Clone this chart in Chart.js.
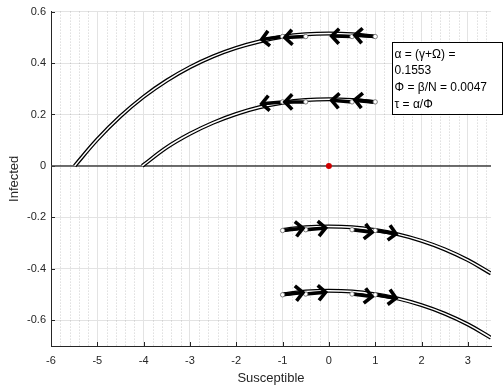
<!DOCTYPE html>
<html lang="en">
<head>
<meta charset="UTF-8">
<title>Susceptible vs Infected phase plane</title>
<script src="https://cdn.jsdelivr.net/npm/chart.js"></script>
<style>
  body { margin: 0; background: #fff; }
  #chart { display: block; }
</style>
</head>
<body>
<canvas id="chart" width="503" height="389"></canvas>
<script>
    const fontFamily = '"Liberation Sans", Arial, Helvetica, sans-serif';

    // axes
    const xTicks = [-6, -5, -4, -3, -2, -1, 0, 1, 2, 3];
    const xTickLabels = ['-6', '-5', '-4', '-3', '-2', '-1', '0', '1', '2', '3'];
    const yTicks = [-0.6, -0.4, -0.2, 0, 0.2, 0.4, 0.6];
    const yTickLabels = ['-0.6', '-0.4', '-0.2', '0', '0.2', '0.4', '0.6'];

    // trajectories (Susceptible, Infected)
    const curveA_S = [-5.49, -5.0, -4.5, -4.0, -3.5, -3.0, -2.5, -2.0, -1.5, -1.0, -0.5, 0, 0.5, 1.0];
    const curveA_I = [0, 0.103, 0.193, 0.269, 0.332, 0.384, 0.426, 0.459, 0.484, 0.502, 0.512, 0.515, 0.512, 0.503];
    const curveB_S = [-4.03, -3.5, -3.0, -2.5, -2.0, -1.5, -1.0, -0.5, 0, 0.5, 1.0];
    const curveB_I = [0, 0.072, 0.125, 0.168, 0.202, 0.228, 0.246, 0.256, 0.259, 0.256, 0.249];
    const curveC_S = [-1.0, -0.5, 0, 0.5, 1.0, 1.5, 2.0, 2.5, 3.0, 3.5];
    const curveC_I = [-0.249, -0.238, -0.235, -0.238, -0.249, -0.266, -0.291, -0.324, -0.366, -0.418];
    const curveD_S = [-1.0, -0.5, 0, 0.5, 1.0, 1.5, 2.0, 2.5, 3.0, 3.5];
    const curveD_I = [-0.499, -0.488, -0.485, -0.488, -0.499, -0.516, -0.541, -0.574, -0.616, -0.668];

    // quiver arrows: tail (open circle) -> tip
    const arrowTailS_top = [1.0, 0.5, -0.5, -1.0];
    const arrowTipS_top = [0.56, 0.06, -0.95, -1.45];
    const arrowTailS_low = [-1.0, -0.5, 0.5, 1.0];
    const arrowTipS_low = [-0.56, -0.07, 0.93, 1.45];
    const arrowTailI_A = [0.503, 0.503, 0.503, 0.503];
    const arrowTipI_A = [0.508, 0.505, 0.499, 0.492];
    const arrowTailI_B = [0.249, 0.249, 0.249, 0.249];
    const arrowTipI_B = [0.257, 0.255, 0.249, 0.242];
    const arrowTailI_C = [-0.251, -0.248, -0.248, -0.251];
    const arrowTipI_C = [-0.242, -0.241, -0.258, -0.264];
    const arrowTailI_D = [-0.501, -0.498, -0.498, -0.501];
    const arrowTipI_D = [-0.492, -0.491, -0.508, -0.514];

    const equilibriumS = [0];
    const equilibriumI = [0];
    const zeroLineS = [-6, 3.5];
    const zeroLineI = [0, 0];

    const boxLines = ['α = (γ+Ω) =', '0.1553', 'Φ = β/N = 0.0047', 'τ = α/Φ'];

    const toPts = (xs, ys) => xs.map((x, i) => ({ x: x, y: ys[i] }));

    const datasets = [];

    datasets.push({
        data: toPts(zeroLineS, zeroLineI),
        showLine: true, borderColor: '#404040', borderWidth: 1.5,
        pointRadius: 0, order: 20
    });

    [[curveA_S, curveA_I], [curveB_S, curveB_I], [curveC_S, curveC_I], [curveD_S, curveD_I]].forEach(c => {
        datasets.push({
            data: toPts(c[0], c[1]),
            showLine: true, borderColor: '#000', borderWidth: 4,
            tension: 0.4, pointRadius: 0, order: 15
        });
        datasets.push({
            data: toPts(c[0], c[1]),
            showLine: true, borderColor: '#fff', borderWidth: 1.5,
            tension: 0.4, pointRadius: 0, order: 14
        });
    });

    const arrowGroups = [
        [arrowTailS_top, arrowTailI_A, arrowTipS_top, arrowTipI_A],
        [arrowTailS_top, arrowTailI_B, arrowTipS_top, arrowTipI_B],
        [arrowTailS_low, arrowTailI_C, arrowTipS_low, arrowTipI_C],
        [arrowTailS_low, arrowTailI_D, arrowTipS_low, arrowTipI_D]
    ];
    const tails = [];
    arrowGroups.forEach(g => {
        g[0].forEach((s, i) => {
            datasets.push({
                data: [{ x: s, y: g[1][i] }, { x: g[2][i], y: g[3][i] }],
                showLine: true, borderColor: '#000', borderWidth: 3.5,
                pointRadius: 0, order: 10, arrow: true
            });
            tails.push({ x: s, y: g[1][i] });
        });
    });

    datasets.push({
        data: tails,
        pointRadius: 2.2, pointBackgroundColor: '#fff',
        pointBorderColor: '#666', pointBorderWidth: 0.8, order: 5
    });

    datasets.push({
        data: toPts(equilibriumS, equilibriumI),
        pointRadius: 3, pointBackgroundColor: '#d00000',
        pointBorderColor: '#d00000', pointBorderWidth: 0, order: 1
    });

    // dotted minor grid + inward ticks
    const gridExtras = {
        id: 'gridExtras',
        beforeDatasetsDraw(chart) {
            const { ctx, chartArea: a, scales: { x, y } } = chart;
            ctx.save();
            ctx.strokeStyle = 'rgba(0,0,0,0.2)';
            ctx.lineWidth = 1;
            ctx.setLineDash([1, 2]);
            for (let k = 0; k <= 47; k++) {
                const v = -6 + k * 0.2;
                if (Math.abs(v - Math.round(v)) < 1e-6) continue;
                const px = Math.round(x.getPixelForValue(v)) + 0.5;
                ctx.beginPath();
                ctx.moveTo(px, a.top);
                ctx.lineTo(px, a.bottom);
                ctx.stroke();
            }
            ctx.setLineDash([]);
            ctx.strokeStyle = '#262626';
            xTicks.forEach(v => {
                const px = Math.round(x.getPixelForValue(v)) + 0.5;
                ctx.beginPath();
                ctx.moveTo(px, a.bottom);
                ctx.lineTo(px, a.bottom - 4);
                ctx.stroke();
            });
            yTicks.forEach(v => {
                const py = Math.round(y.getPixelForValue(v)) + 0.5;
                ctx.beginPath();
                ctx.moveTo(a.left, py);
                ctx.lineTo(a.left + 4, py);
                ctx.stroke();
            });
            ctx.restore();
        }
    };

    const arrowHeads = {
        id: 'arrowHeads',
        afterDatasetsDraw(chart) {
            const ctx = chart.ctx;
            chart.data.datasets.forEach((ds, i) => {
                if (!ds.arrow) return;
                const pts = chart.getDatasetMeta(i).data;
                const a = pts[0], b = pts[1];
                const ang = Math.atan2(b.y - a.y, b.x - a.x);
                const len = 10.5, spread = 0.8;
                ctx.save();
                ctx.strokeStyle = '#000';
                ctx.lineWidth = 3.6;
                ctx.lineJoin = 'miter';
                ctx.beginPath();
                ctx.moveTo(b.x - len * Math.cos(ang - spread), b.y - len * Math.sin(ang - spread));
                ctx.lineTo(b.x, b.y);
                ctx.lineTo(b.x - len * Math.cos(ang + spread), b.y - len * Math.sin(ang + spread));
                ctx.stroke();
                ctx.restore();
            });
        }
    };

    const textBox = {
        id: 'textBox',
        afterDraw(chart) {
            const { ctx, chartArea: a } = chart;
            const left = a.right - 99, top = a.top + 30, w = 110, h = 72;
            ctx.save();
            ctx.fillStyle = '#fff';
            ctx.fillRect(left, top, w, h);
            ctx.strokeStyle = '#000';
            ctx.lineWidth = 1;
            ctx.strokeRect(Math.round(left) + 0.5, Math.round(top) + 0.5, w, h);
            ctx.fillStyle = '#000';
            ctx.font = '12px ' + fontFamily;
            ctx.textBaseline = 'middle';
            boxLines.forEach((t, i) => {
                ctx.fillText(t, left + 2.5, top + 12.7 + i * 16.7);
            });
            ctx.restore();
        }
    };

    new Chart(document.getElementById('chart'), {
        type: 'scatter',
        data: { datasets: datasets },
        options: {
            responsive: false,
            animation: false,
            events: [],
            layout: { padding: { top: 9, right: 12, left: 0, bottom: 0 } },
            plugins: { legend: { display: false }, tooltip: { enabled: false } },
            scales: {
                x: {
                    type: 'linear', min: -6, max: 3.5,
                    afterBuildTicks: s => { s.ticks = xTicks.map(v => ({ value: v })); },
                    afterFit: s => { s.height = 43; },
                    grid: { color: '#e3e3e3', drawTicks: false },
                    border: { display: true, color: '#262626', width: 1 },
                    ticks: {
                        padding: 8, color: '#262626', autoSkip: false, maxRotation: 0,
                        font: { family: fontFamily, size: 11 },
                        callback: (v, i) => xTickLabels[i]
                    },
                    title: {
                        display: true, text: 'Susceptible', color: '#262626',
                        font: { family: fontFamily, size: 13 }, padding: { top: 0, bottom: 3 }
                    }
                },
                y: {
                    type: 'linear', min: -0.7, max: 0.6,
                    afterBuildTicks: s => { s.ticks = yTicks.map(v => ({ value: v })); },
                    afterFit: s => { s.width = 51; },
                    grid: { color: '#e3e3e3', drawTicks: false },
                    border: { display: true, color: '#262626', width: 1 },
                    ticks: {
                        padding: 5, color: '#262626', autoSkip: false,
                        font: { family: fontFamily, size: 11 },
                        callback: (v, i) => yTickLabels[i]
                    },
                    title: {
                        display: true, text: 'Infected', color: '#262626',
                        font: { family: fontFamily, size: 13 }, padding: { top: 7, bottom: 0 }
                    }
                }
            }
        },
        plugins: [gridExtras, arrowHeads, textBox]
    });
</script>
</body>
</html>
